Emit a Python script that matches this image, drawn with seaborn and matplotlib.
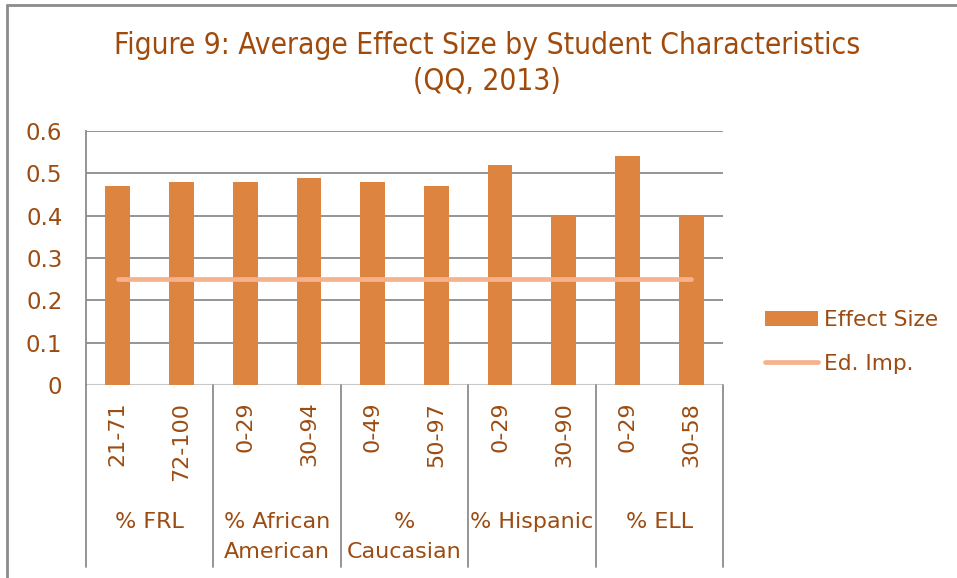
import numpy as np
import pandas as pd
import seaborn as sns
import matplotlib.pyplot as plt
from matplotlib.lines import Line2D
from matplotlib.patches import Patch

# values
keys = ["FRL 21-71", "FRL 72-100", "AA 0-29", "AA 30-94", "CA 0-49", "CA 50-97",
        "HI 0-29", "HI 30-90", "ELL 0-29", "ELL 30-58"]
tick_labels = ["21-71", "72-100", "0-29", "30-94", "0-49", "50-97",
               "0-29", "30-90", "0-29", "30-58"]
groups = ["% FRL", "% African\nAmerican", "%\nCaucasian", "% Hispanic", "% ELL"]
effect_size = [0.47, 0.48, 0.48, 0.49, 0.48, 0.47, 0.52, 0.40, 0.54, 0.40]
ed_imp = [0.25] * 10

txt = "#9C4C12"
bar_c = "#DD8441"
line_c = "#F6B28D"
grid_c = "#8C8C8C"

sns.set_style("white")
plt.rcParams['font.family'] = ['DejaVu Sans']

df = pd.DataFrame({"key": keys, "Effect Size": effect_size})

fig = plt.figure(figsize=(9.57, 5.78), dpi=100)
ax = fig.add_axes([86/957, 1-385/578, 637/957, 254/578])

sns.barplot(data=df, x="key", y="Effect Size", color=bar_c, width=0.39,
            saturation=1, linewidth=0, ax=ax, zorder=3)
sns.lineplot(x=np.arange(len(ed_imp)), y=ed_imp, color=line_c, lw=3.4,
             ax=ax, zorder=4, solid_capstyle='round')

ax.set_xlim(-0.5, 9.5)
ax.set_ylim(0, 0.6)
ax.set_yticks(np.arange(0, 0.61, 0.1))
ax.set_yticklabels(["0", "0.1", "0.2", "0.3", "0.4", "0.5", "0.6"])
ax.set_xticks(range(10))
ax.set_xticklabels(tick_labels, rotation=90, va='top', ha='center')
ax.tick_params(axis='x', length=0, pad=12, labelsize=16, labelcolor=txt)
ax.tick_params(axis='y', length=0, pad=17, labelsize=16.5, labelcolor=txt)
ax.set_xlabel("")
ax.set_ylabel("")

for y in np.arange(0.1, 0.61, 0.1):
    ax.axhline(y, color=grid_c, lw=1.3, zorder=1)
for s in ["top", "right", "bottom"]:
    ax.spines[s].set_visible(False)
ax.spines["left"].set_color(grid_c)
ax.spines["left"].set_linewidth(1.3)
ax.axhline(0, color="#C8C8C8", lw=1.5, zorder=2)

# category group separators and labels
tr = ax.get_xaxis_transform()
for xb in [-0.5, 1.5, 3.5, 5.5, 7.5, 9.5]:
    ax.plot([xb, xb], [0, -0.717], transform=tr, color=grid_c, lw=1.3,
            clip_on=False)
for i, g in enumerate(groups):
    ax.text(2 * i + 0.5, -0.50, g, transform=tr, ha='center', va='top',
            multialignment='center', fontsize=16, color=txt, linespacing=1.6)

# legend
handles = [Patch(facecolor=bar_c, edgecolor='none'),
           Line2D([0], [0], color=line_c, lw=3.4, solid_capstyle='round')]
leg = fig.legend(handles, ["Effect Size", "Ed. Imp."], loc='center left',
                 bbox_to_anchor=(745/957, 1-342/578), frameon=False,
                 fontsize=15.6, handlelength=2.45, handletextpad=0.3,
                 labelspacing=1.1, labelcolor=txt)

fig.text(0.509, 1-31/578,
         "Figure 9: Average Effect Size by Student Characteristics\n(QQ, 2013)",
         ha='center', va='top', fontsize=21.4, color="#A04B0B",
         family=['DejaVu Sans'], fontstretch='condensed', linespacing=1.3)

# outer frame
fig.add_artist(Line2D([7/957, 7/957], [0, 1-5/578], color="#8C8C8C", lw=2))
fig.add_artist(Line2D([7/957, 1], [1-5/578, 1-5/578], color="#8C8C8C", lw=2))

fig.savefig("out.png", dpi=100)
